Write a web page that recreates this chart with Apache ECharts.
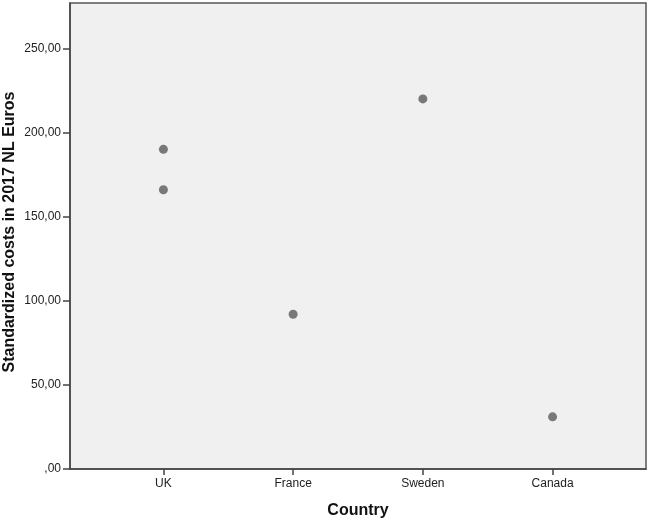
<!DOCTYPE html>
<html><head><meta charset="utf-8">
<script src="https://cdn.jsdelivr.net/npm/echarts@6/dist/echarts.min.js"></script>
<style>html,body{margin:0;padding:0;background:#fff}#c{width:649px;height:520px}</style>
</head><body><div id="c"></div>
<script>
const categories = ['UK', 'France', 'Sweden', 'Canada'];
const pointCategory = ['UK', 'UK', 'France', 'Sweden', 'Canada'];
const pointValues = [190, 166, 92, 220, 31];
const yTicks = [0, 50, 100, 150, 200, 250];
const xTitle = 'Country';
const yTitle = 'Standardized costs in 2017 NL Euros';

function fmt(v) {
  const s = v.toFixed(2).replace('.', ',');
  return v === 0 ? ',00' : s;
}

const data = pointCategory.map((c, i) => [categories.indexOf(c), pointValues[i]]);
const chart = echarts.init(document.getElementById('c'));
const font = 'Liberation Sans, Arial, sans-serif';
chart.setOption({
  animation: false,
  backgroundColor: '#fff',
  graphic: [{
    type: 'text', x: 10, y: 232, rotation: Math.PI / 2,
    style: { text: yTitle, font: 'bold 16px ' + font, fill: '#111', align: 'center', verticalAlign: 'middle' }
  }],
  grid: { left: 70, right: 3, top: 3, bottom: 51, outerBoundsMode: 'none', containLabel: false, show: true, backgroundColor: '#f0f0f0', borderColor: '#555', borderWidth: 1.5 },
  xAxis: {
    type: 'value', min: -0.72, max: 3.72,
    name: xTitle, nameLocation: 'middle', nameGap: 34,
    nameTextStyle: { fontFamily: font, fontWeight: 'bold', fontSize: 16, color: '#111' },
    axisLine: { show: true, onZero: false, lineStyle: { color: '#444', width: 1.5 } },
    axisTick: { show: true, length: 6, customValues: [0, 1, 2, 3], lineStyle: { color: '#444', width: 1.5 } },
    axisLabel: { customValues: [0, 1, 2, 3], formatter: v => categories[Math.round(v)], fontFamily: font, fontSize: 12, color: '#222', margin: 9 },
    splitLine: { show: false }
  },
  yAxis: {
    type: 'value', min: 0, max: 277,
    axisLine: { show: true, onZero: false, lineStyle: { color: '#444', width: 1.5 } },
    axisTick: { show: true, length: 7, customValues: yTicks, lineStyle: { color: '#444', width: 1.5 } },
    axisLabel: { customValues: yTicks, formatter: fmt, fontFamily: font, fontSize: 12, color: '#222', margin: 9 },
    splitLine: { show: false }
  },
  series: [{
    type: 'scatter', data: data, symbol: 'circle', symbolSize: 9,
    itemStyle: { color: '#5a5a5a' }
  }]
});
</script></body></html>
